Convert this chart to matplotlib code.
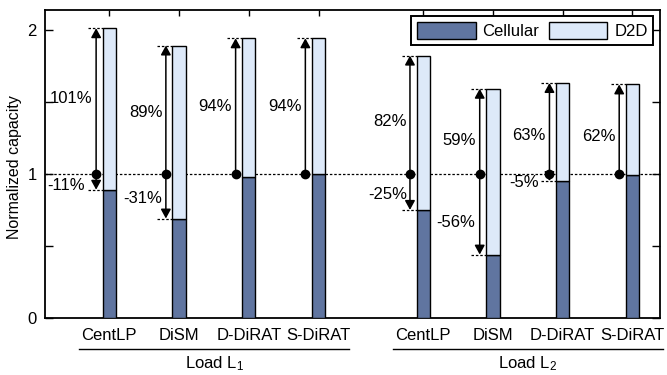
import matplotlib
matplotlib.use("Agg")
import matplotlib.pyplot as plt
from matplotlib.patches import Patch

plt.rcParams["font.family"] = ["Liberation Sans", "DejaVu Sans"]
plt.rcParams["mathtext.fontset"] = "custom"
plt.rcParams["mathtext.rm"] = "Liberation Sans"
plt.rcParams["mathtext.it"] = "Liberation Sans"
plt.rcParams["mathtext.default"] = "regular"

# ---- data -------------------------------------------------------------
schemes = ["CentLP", "DiSM", "D-DiRAT", "S-DiRAT"]
loads = ["Load L$_1$", "Load L$_2$"]

# cellular capacity (normalized to the baseline = 1)
cellular_L1 = [0.89, 0.69, 0.98, 1.00]
cellular_L2 = [0.75, 0.44, 0.95, 0.99]
# total capacity gain over the baseline in percent (cellular + D2D)
gain_L1 = [101, 89, 94, 94]
gain_L2 = [82, 59, 63, 62]
# cellular loss labels (None = not annotated)
loss_L1 = [-11, -31, None, None]
loss_L2 = [-25, -56, -5, None]

# ---- layout -----------------------------------------------------------
group_offsets = [0.0, 4.5]
bar_w = 0.19
arrow_dx = -0.19
gain_label_dy = [[0.02, -0.02, 0.0, 0.0], [-0.045, -0.065, -0.05, -0.05]]
loss_label_dy = [[-0.025, -0.015, 0, 0], [-0.015, -0.055, -0.035, 0]]
loss_label_dx = [[0.14, 0.03, 0, 0], [0.02, 0.04, 0.13, 0]]

cell_color = "#6075a0"
d2d_color = "#dde9f9"

fig = plt.figure(figsize=(6.67, 3.75), dpi=100)
ax = fig.add_axes([45 / 667, 1 - 318 / 375, (660 - 45) / 667, (318 - 9.5) / 375])

ax.axhline(1.0, color="black", lw=0.9, ls=(0, (2, 1.5)), zorder=1)

fs = 12
positions = []
for g, (cell, gain, loss) in enumerate(zip([cellular_L1, cellular_L2],
                                          [gain_L1, gain_L2],
                                          [loss_L1, loss_L2])):
    for i in range(len(schemes)):
        x = group_offsets[g] + i
        positions.append(x)
        c = 1 + loss[i] / 100 if loss[i] is not None else cell[i]
        total = 1 + gain[i] / 100
        ax.bar(x, c, bar_w, color=cell_color, edgecolor="black", lw=1.0, zorder=3)
        ax.bar(x, total - c, bar_w, bottom=c, color=d2d_color,
               edgecolor="black", lw=1.0, zorder=3)

        xa = x + arrow_dx
        # gain arrow
        ax.annotate("", xy=(xa, total), xytext=(xa, 1.0),
                    arrowprops=dict(arrowstyle="-|>,head_length=0.55,head_width=0.3",
                                    color="black", lw=1.1, shrinkA=0, shrinkB=0,
                                    mutation_scale=10), zorder=4)
        ax.plot([xa - 0.12, x - bar_w / 2], [total, total], color="black",
                lw=0.9, ls=(0, (2, 1.5)), zorder=2)
        ax.text(xa - 0.05, (1 + total) / 2 + gain_label_dy[g][i],
                f"{gain[i]}%", ha="right", va="center", fontsize=fs, zorder=5)
        # loss arrow
        if loss[i] is not None:
            ax.annotate("", xy=(xa, c), xytext=(xa, 1.0),
                        arrowprops=dict(arrowstyle="-|>,head_length=0.55,head_width=0.3",
                                        color="black", lw=1.1, shrinkA=0, shrinkB=0,
                                        mutation_scale=10), zorder=4)
            ax.plot([xa - 0.12, x - bar_w / 2], [c, c], color="black",
                    lw=0.9, ls=(0, (2, 1.5)), zorder=2)
            ax.text(xa - 0.02 - loss_label_dx[g][i], (1 + c) / 2 + loss_label_dy[g][i],
                    f"{loss[i]}%", ha="right", va="center", fontsize=fs, zorder=5)
        ax.plot(xa, 1.0, "o", color="black", ms=6, zorder=5)

ax.set_xlim(-0.923, 7.895)
ax.set_ylim(0, 2.14)
ax.set_xticks(positions)
ax.set_xticklabels(schemes * 2, fontsize=fs)
ax.tick_params(axis="x", bottom=False, top=True, direction="in", length=4,
               width=1, pad=7)
ax.set_yticks([0, 1, 2])
ax.set_yticks([0.5, 1.5], minor=True)
ax.tick_params(axis="y", which="both", direction="in", length=6, width=1,
               right=True, labelsize=fs, pad=6)
for s in ax.spines.values():
    s.set_linewidth(1.3)

ax.set_ylabel("Normalized capacity", fontsize=11.5)
ax.yaxis.set_label_coords(-(45 - 22) / 615, 0.49)

# group brackets and load labels
for g, name in enumerate(loads):
    center = group_offsets[g] + 1.5
    ax.plot([center - 1.94, center + 1.94], [-0.1015, -0.1015],
            transform=ax.get_xaxis_transform(), color="black", lw=1.0,
            clip_on=False)
    ax.text(center, -0.118, name, transform=ax.get_xaxis_transform(),
            ha="center", va="top", fontsize=fs)

handles = [Patch(facecolor=cell_color, edgecolor="black", lw=1.0, label="Cellular"),
           Patch(facecolor=d2d_color, edgecolor="black", lw=1.0, label="D2D")]
leg = ax.legend(handles=handles, loc="upper right", ncol=2, fontsize=fs,
                handlelength=3.5, handleheight=1.2, handletextpad=0.4,
                columnspacing=0.6, borderpad=0.35, borderaxespad=0.4,
                fancybox=False, framealpha=1, edgecolor="black")
leg.get_frame().set_linewidth(1.4)
leg.set_zorder(10)

fig.savefig("out.png", dpi=100)
